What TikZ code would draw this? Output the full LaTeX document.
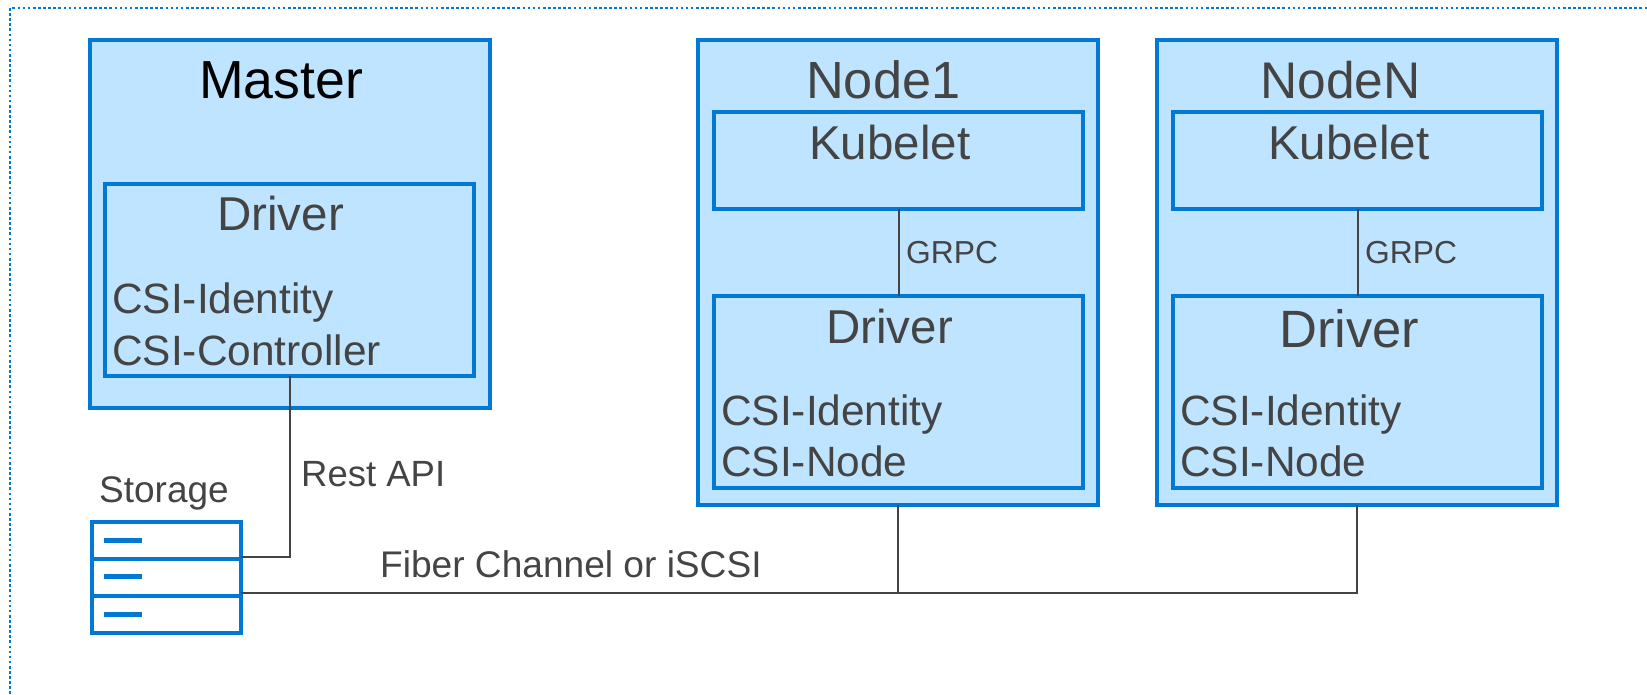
\documentclass[tikz,border=0pt]{standalone}
\usepackage{fontspec}
\setmainfont{Liberation Sans}
\definecolor{blu}{RGB}{0,120,212}
\definecolor{lite}{RGB}{191,228,255}
\definecolor{txt}{RGB}{68,68,68}
\newcommand{\fs}[1]{\fontsize{#1pt}{#1pt}\selectfont}
\tikzset{
  x=1pt,y=-1pt,
  boxed/.style={draw=blu,line width=4pt,fill=lite,inner sep=0pt,outer sep=0pt,anchor=north west},
  shelf/.style={draw=blu,line width=4pt,fill=white,inner sep=0pt,outer sep=0pt,anchor=north west,minimum width=149pt,minimum height=37pt},
  shelfbar/.style={draw=none,fill=blu,inner sep=0pt,outer sep=0pt,anchor=north west,minimum width=38pt,minimum height=5pt},
  lbl/.style={text=txt,inner sep=0pt,anchor=base west},
  wire/.style={draw=txt,line width=2pt},
  outerline/.style={draw=blu,line width=2.2pt,dash pattern=on 2.6pt off 2.5pt}
}
\begin{document}
\begin{tikzpicture}
\useasboundingbox (0,0) rectangle (1647,694);
\draw[outerline] (10,694) -- (10,8) -- (1647,8);
% boxes
\node[boxed,minimum width=400pt,minimum height=368pt] (master) at (90,40) {};
\node[boxed,minimum width=369pt,minimum height=192pt] (mdrv) at (105,184) {};
\node[boxed,minimum width=400pt,minimum height=465pt] (n1) at (698,40) {};
\node[boxed,minimum width=369pt,minimum height=97pt] (k1) at (714,112) {};
\node[boxed,minimum width=369pt,minimum height=192pt] (d1) at (714,296) {};
\node[boxed,minimum width=400pt,minimum height=465pt] (nn) at (1157,40) {};
\node[boxed,minimum width=369pt,minimum height=97pt] (kn) at (1173,112) {};
\node[boxed,minimum width=369pt,minimum height=192pt] (dn) at (1173,296) {};
% storage
\node[shelf] (s1) at (92,522) {};
\node[shelf] (s2) at (92,559) {};
\node[shelf] (s3) at (92,596) {};
\node[shelfbar] (b1) at (104,538) {};
\node[shelfbar] (b2) at (104,574) {};
\node[shelfbar] (b3) at (104,612) {};
% connectors
\draw[wire] (k1.south) -- (d1.north);
\draw[wire] (kn.south) -- (dn.north);
\draw[wire] (mdrv.south) |- ([yshift=2pt]s2.north east);
\draw[wire] ([yshift=2.7pt]s3.north east) -| (nn.south);
\draw[wire] (n1.south) -- ([yshift=2.7pt]n1.south |- s3.north);
% labels
\node[lbl,text=black] (t1) at (199,98) {\fs{53.6}Master};
\node[lbl] (t2) at (217,230) {\fs{47.5}Driver};
\node[lbl] (t3) at (112,313.5) {\fs{42.4}CSI-Identity};
\node[lbl] (t4) at (112,365) {\fs{42.4}CSI-Controller};
\node[lbl] (t5) at (806,98) {\fs{52.3}Node1};
\node[lbl] (t6) at (809,159) {\fs{47.5}Kubelet};
\node[lbl] (t7) at (906,263) {\fs{31.8}GRPC};
\node[lbl] (t8) at (826,343) {\fs{47.5}Driver};
\node[lbl] (t9) at (721,425) {\fs{42.4}CSI-Identity};
\node[lbl] (t10) at (721,476) {\fs{42.4}CSI-Node};
\node[lbl] (t11) at (1260,98) {\fs{51.5}NodeN};
\node[lbl] (t12) at (1268,159) {\fs{47.5}Kubelet};
\node[lbl] (t13) at (1365,263) {\fs{31.8}GRPC};
\node[lbl] (t14) at (1279,347) {\fs{52.5}Driver};
\node[lbl] (t15) at (1180,425) {\fs{42.4}CSI-Identity};
\node[lbl] (t16) at (1180,476) {\fs{42.4}CSI-Node};
\node[lbl] (t17) at (301,486) {\fs{36.5}Rest API};
\node[lbl] (t18) at (99,502) {\fs{37}Storage};
\node[lbl] (t19) at (380,577) {\fs{37.1}Fiber Channel or iSCSI};
\end{tikzpicture}
\end{document}
